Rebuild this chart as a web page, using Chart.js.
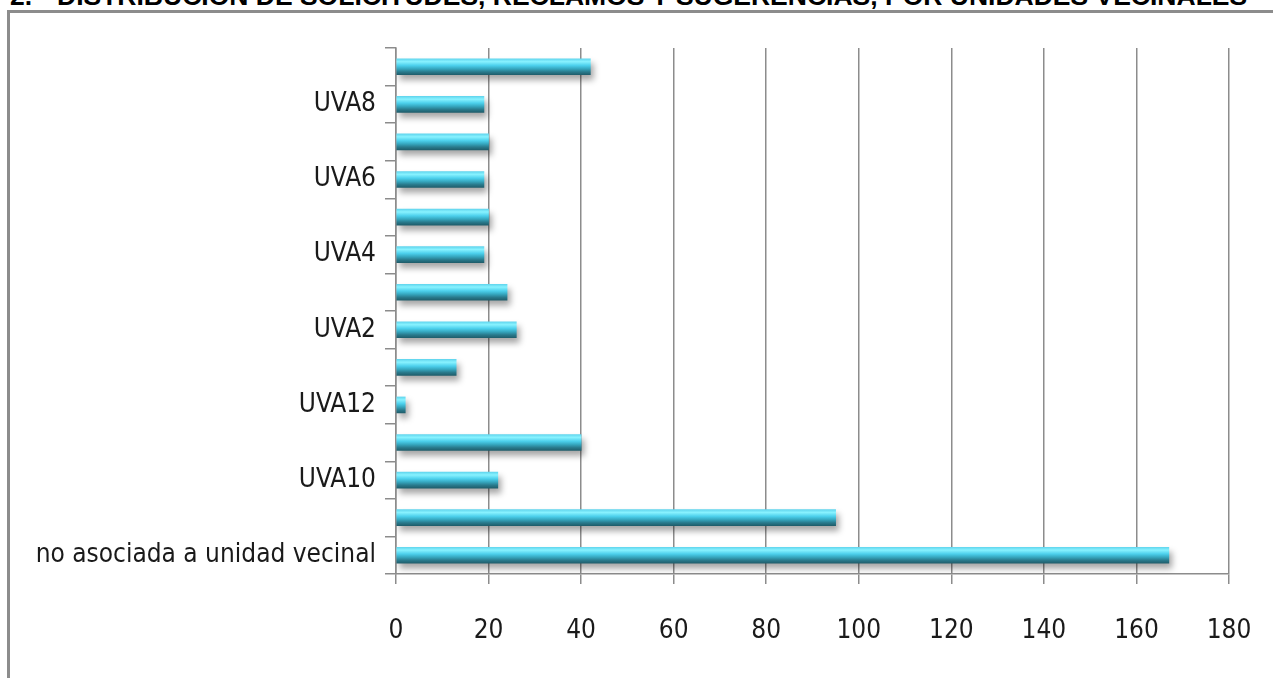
<!DOCTYPE html>
<html>
<head>
<meta charset="utf-8">
<script src="https://cdn.jsdelivr.net/npm/chart.js@4.4.1/dist/chart.umd.min.js"></script>
<style>
    html, body { margin: 0; padding: 0; background: #fff; overflow: hidden; }
    #wrap { position: relative; width: 1273px; height: 678px; }
    #heading {
        position: absolute; left: 10px; top: -17px; white-space: nowrap;
        font: bold 26.5px "Liberation Sans", Arial, sans-serif; color: #000; line-height: 26px;
    }
    #heading span { display: inline-block; width: 47px; }
    #frame {
        position: absolute; left: 7px; top: 10px; width: 1300px; height: 700px;
        border-left: 3px solid #8c8c8c; border-top: 3px solid #8c8c8c;
    }
    #myChart { position: absolute; left: 0; top: 0; }
</style>
</head>
<body>
<div id="wrap">
    <div id="heading"><span>2.</span>DISTRIBUCIÓN DE SOLICITUDES, RECLAMOS Y SUGERENCIAS, POR UNIDADES VECINALES</div>
    <div id="frame"></div>
    <canvas id="myChart" width="1273" height="678"></canvas>
</div>
<script>
const categories = ['no asociada a unidad vecinal', 'UVA1', 'UVA10', 'UVA11', 'UVA12', 'UVA13', 'UVA2', 'UVA3', 'UVA4', 'UVA5', 'UVA6', 'UVA7', 'UVA8', 'UVA9']
const counts = [167, 95, 22, 40, 2, 13, 26, 24, 19, 20, 19, 20, 19, 42]
const xTicks = [0, 20, 40, 60, 80, 100, 120, 140, 160, 180]

const ctx = document.getElementById('myChart')
const gridColor = '#8c8c8c'
const labelFont = { family: '"DejaVu Sans Condensed", "Liberation Sans Narrow", sans-serif', size: 26 }
const BAR_H = 16

function barFill(c) {
    const chart = c.chart
    const y = chart.scales && chart.scales.y
    if (!y || c.dataIndex === undefined) return '#45c8e0'
    const py = y.getPixelForValue(c.dataIndex)
    if (!isFinite(py)) return '#45c8e0'
    const g = chart.ctx.createLinearGradient(0, py - BAR_H / 2, 0, py + BAR_H / 2)
    g.addColorStop(0, '#62d6ee')
    g.addColorStop(0.18, '#88f2ff')
    g.addColorStop(0.42, '#4cd0ec')
    g.addColorStop(0.62, '#36a8c0')
    g.addColorStop(0.82, '#297a8c')
    g.addColorStop(1, '#1f5e6c')
    return g
}

// soft drop shadow under the bars
const barShadow = {
    id: 'barShadow',
    beforeDatasetDraw(chart) {
        const c = chart.ctx
        c.save()
        c.shadowColor = 'rgba(0, 0, 0, 0.35)'
        c.shadowBlur = 6
        c.shadowOffsetX = 3
        c.shadowOffsetY = 5
    },
    afterDatasetDraw(chart) {
        chart.ctx.restore()
    }
}

new Chart(ctx, {
    type: 'bar',
    data: {
        labels: categories,
        datasets: [{
            data: counts,
            backgroundColor: barFill,
            borderWidth: 0,
            barThickness: BAR_H
        }]
    },
    options: {
        indexAxis: 'y',
        responsive: false,
        animation: false,
        layout: { padding: { top: 48, right: 44, left: 0, bottom: 0 } },
        plugins: {
            legend: { display: false },
            tooltip: { enabled: false }
        },
        scales: {
            x: {
                min: 0,
                max: 180,
                afterBuildTicks: (scale) => { scale.ticks = xTicks.map(v => ({ value: v })) },
                afterFit: (scale) => {
                    scale.height = 104
                    scale.paddingLeft = 0
                    scale.paddingRight = 0
                },
                grid: { color: gridColor, lineWidth: 1.5, tickLength: 10 },
                border: { color: gridColor, width: 1.5 },
                ticks: { color: '#1a1a1a', font: labelFont, padding: 32 }
            },
            y: {
                reverse: true,
                afterFit: (scale) => { scale.width = 396 },
                grid: { drawOnChartArea: false, color: gridColor, lineWidth: 1.5, tickLength: 11, offset: true },
                border: { color: gridColor, width: 1.5 },
                ticks: {
                    autoSkip: false,
                    color: '#1a1a1a',
                    font: labelFont,
                    padding: 9,
                    callback: (v) => v % 2 === 0 ? categories[v] : ''
                }
            }
        }
    },
    plugins: [barShadow]
})
</script>
</body>
</html>
